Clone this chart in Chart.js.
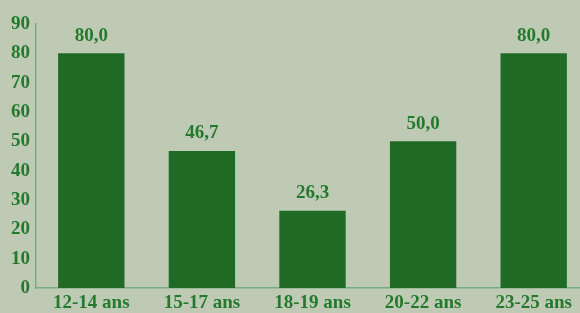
<!DOCTYPE html>
<html>
<head>
<meta charset="utf-8">
<script src="https://cdn.jsdelivr.net/npm/chart.js@4/dist/chart.umd.min.js"></script>
<style>
  html, body { margin: 0; padding: 0; background: #bfcab5; overflow: hidden; }
  #wrap { width: 589px; height: 313px; }
</style>
</head>
<body>
<div id="wrap"><canvas id="c" width="589" height="313"></canvas></div>
<script>
// age groups and their values
var categories = ['12-14 ans', '15-17 ans', '18-19 ans', '20-22 ans', '23-25 ans'];
var values = [80.0, 46.7, 26.3, 50.0, 80.0];
var yTicks = [0, 10, 20, 30, 40, 50, 60, 70, 80, 90];

var textColor = '#237a2d';
var barColor = '#1f6b25';
var axisColor = '#78ac80';
var font = { family: '"Liberation Serif", "Times New Roman", serif', size: 19, weight: 'bold' };

// writes the value above each bar, with a comma as decimal mark
var valueLabels = {
    id: 'valueLabels',
    afterDatasetsDraw: function(chart) {
        var ctx = chart.ctx;
        var meta = chart.getDatasetMeta(0);
        ctx.save();
        ctx.fillStyle = textColor;
        ctx.font = 'bold 19px ' + font.family;
        ctx.textAlign = 'center';
        ctx.textBaseline = 'bottom';
        meta.data.forEach(function(bar, i) {
            ctx.fillText(values[i].toFixed(1).replace('.', ','), bar.x, bar.y - 8);
        });
        ctx.restore();
    }
};

new Chart(document.getElementById('c'), {
    type: 'bar',
    data: {
        labels: categories,
        datasets: [{
            data: values,
            backgroundColor: barColor,
            borderWidth: 0,
            barPercentage: 0.6,
            categoryPercentage: 1.0
        }]
    },
    options: {
        responsive: false,
        animation: false,
        layout: { padding: { top: 24, right: 0, left: 0, bottom: 0 } },
        plugins: { legend: { display: false }, tooltip: { enabled: false } },
        scales: {
            x: {
                grid: { display: false, tickLength: 0 },
                border: { display: true, color: axisColor, width: 1.5 },
                ticks: { color: textColor, font: font, padding: 4, maxRotation: 0 },
                afterFit: function(scale) { scale.height = 25; }
            },
            y: {
                min: 0,
                max: 90,
                afterBuildTicks: function(scale) {
                    scale.ticks = yTicks.map(function(v) { return { value: v }; });
                },
                grid: { display: false, tickLength: 0 },
                border: { display: true, color: axisColor, width: 1.5 },
                ticks: { color: textColor, font: font, padding: 6 },
                afterFit: function(scale) { scale.width = 36; }
            }
        }
    },
    plugins: [valueLabels]
});
</script>
</body>
</html>
